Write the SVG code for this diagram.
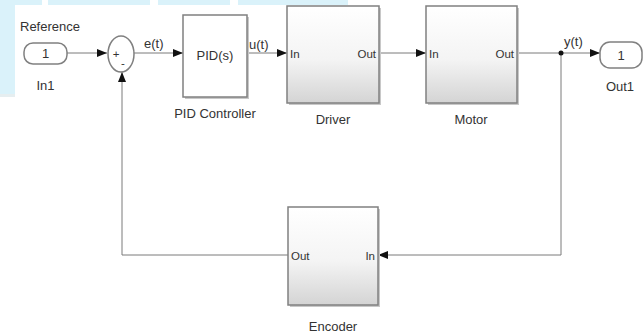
<svg xmlns="http://www.w3.org/2000/svg" width="643" height="335" viewBox="0 0 643 335">
<defs>
<linearGradient id="g" x1="0" y1="0" x2="0" y2="1">
<stop offset="0" stop-color="#ffffff"/>
<stop offset="0.55" stop-color="#f4f4f4"/>
<stop offset="1" stop-color="#d4d4d4"/>
</linearGradient>
<marker id="ah" viewBox="0 0 10 8" refX="10" refY="4" markerWidth="10" markerHeight="8" markerUnits="userSpaceOnUse" orient="auto">
<path d="M0,0 L10,4 L0,8 Z" fill="#111"/>
</marker>
</defs>
<style>
text{font-family:"Liberation Sans",Arial,sans-serif;fill:#333;}
.lbl{font-size:13px;}
.port{font-size:11.5px;}
.blk{stroke:#808080;stroke-width:1.5;}
.shadow{fill:#c8c8c8;}
.wire{fill:none;stroke:#7a7a7a;stroke-width:1;}
.bg{fill:#daf2fa;}
</style>
<rect width="643" height="335" fill="#ffffff"/>
<g id="background">
<rect class="bg" x="0" y="0" width="42" height="5"/>
<rect class="bg" x="48" y="0" width="102" height="5"/>
<rect class="bg" x="158" y="0" width="72" height="5"/>
<rect class="bg" x="238" y="0" width="110" height="5"/>
<rect class="bg" x="0" y="0" width="15" height="94"/>
<rect x="0" y="94" width="15" height="3" fill="#e6eef0"/>
</g>
<g id="connectors">
<line class="wire" x1="67" y1="53" x2="107" y2="53" marker-end="url(#ah)"/>
<line class="wire" x1="134" y1="53" x2="183" y2="53" marker-end="url(#ah)"/>
<line class="wire" x1="247" y1="53" x2="287" y2="53" marker-end="url(#ah)"/>
<line class="wire" x1="380" y1="53" x2="426" y2="53" marker-end="url(#ah)"/>
<line class="wire" x1="517" y1="53" x2="600" y2="53" marker-end="url(#ah)"/>
<polyline class="wire" points="561,53 561,255 378,255" marker-end="url(#ah)"/>
<polyline class="wire" points="288,255 122,255 122,72" marker-end="url(#ah)"/>
<circle cx="561" cy="53" r="2.5" fill="#111"/>
<text class="lbl" x="144" y="48">e(t)</text>
<text class="lbl" x="249" y="49">u(t)</text>
<text class="lbl" x="564" y="46">y(t)</text>
</g>
<g id="in1">
<rect class="blk" x="24" y="43" width="43" height="21" rx="9" fill="#fff"/>
<text class="lbl" x="45.5" y="58" text-anchor="middle">1</text>
<text class="lbl" x="50" y="31" text-anchor="middle">Reference</text>
<text class="lbl" x="45.5" y="90" text-anchor="middle">In1</text>
</g>
<g id="sum">
<ellipse class="blk" cx="121" cy="54" rx="13" ry="18" fill="#fff"/>
<text class="port" x="116" y="58" text-anchor="middle">+</text>
<text class="port" x="123" y="67" text-anchor="middle">-</text>
</g>
<g id="pid">
<rect class="shadow" x="185" y="17" width="64" height="82"/>
<rect class="blk" x="183" y="15" width="64" height="82" fill="#fff"/>
<text class="lbl" x="215" y="60" text-anchor="middle">PID(s)</text>
<text class="lbl" x="215" y="118" text-anchor="middle">PID Controller</text>
</g>
<g id="driver">
<rect class="shadow" x="289" y="8" width="92" height="97"/>
<rect class="blk" x="287" y="6" width="92" height="97" fill="url(#g)"/>
<text class="port" x="290" y="58">In</text>
<text class="port" x="376" y="58" text-anchor="end">Out</text>
<text class="lbl" x="333" y="124" text-anchor="middle">Driver</text>
</g>
<g id="motor">
<rect class="shadow" x="428" y="8" width="91" height="97"/>
<rect class="blk" x="426" y="6" width="91" height="97" fill="url(#g)"/>
<text class="port" x="429" y="58">In</text>
<text class="port" x="514" y="58" text-anchor="end">Out</text>
<text class="lbl" x="471" y="124" text-anchor="middle">Motor</text>
</g>
<g id="out1">
<rect class="blk" x="600" y="42" width="42" height="26" rx="10" fill="#fff"/>
<text class="lbl" x="621" y="60" text-anchor="middle">1</text>
<text class="lbl" x="620" y="91" text-anchor="middle">Out1</text>
</g>
<g id="encoder">
<rect class="shadow" x="290" y="209" width="90" height="98"/>
<rect class="blk" x="288" y="207" width="90" height="98" fill="url(#g)"/>
<text class="port" x="291" y="260">Out</text>
<text class="port" x="375" y="260" text-anchor="end">In</text>
<text class="lbl" x="333" y="331" text-anchor="middle">Encoder</text>
</g>
</svg>
